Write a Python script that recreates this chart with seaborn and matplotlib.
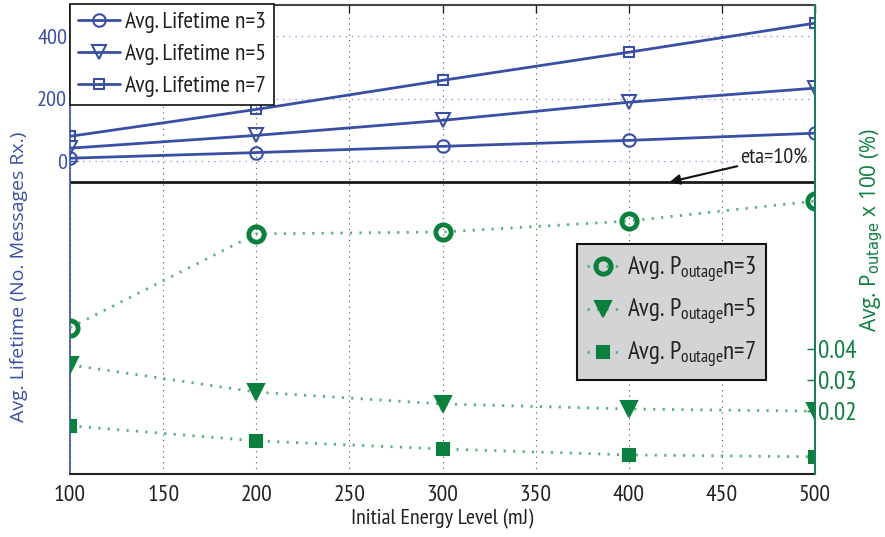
import matplotlib
matplotlib.use("Agg")
import matplotlib.pyplot as plt
import seaborn as sns
import numpy as np
import pandas as pd
from matplotlib import font_manager as fm

# ---------------- data ----------------
energy = [100, 200, 300, 400, 500]
life_n3 = [10, 28, 48, 67, 90]
life_n5 = [42, 83, 131, 189, 234]
life_n7 = [80, 166, 259, 349, 442]
pout_n3 = [0.0468, 0.0768, 0.0774, 0.0809, 0.0873]
pout_n5 = [0.0349, 0.0262, 0.0224, 0.0208, 0.0201]
pout_n7 = [0.0154, 0.0106, 0.0080, 0.0061, 0.0055]
eta_level = -66
x_ticks = [100, 150, 200, 250, 300, 350, 400, 450, 500]
left_ticks = [0, 200, 400]
right_ticks = [0.02, 0.03, 0.04]

BLUE = "#3a4fa3"
GREEN = "#0b7f3d"
LGREEN = "#5db07c"

names = set(f.name for f in fm.fontManager.ttflist)
FONT = "DejaVu Sans"
for cand in ["PT Sans Narrow", "Asap Condensed", "Archivo Narrow", "Barlow Semi Condensed"]:
    if cand in names:
        FONT = cand
        break
WIDE = "Open Sans" if "Open Sans" in names else "DejaVu Sans"

sns.set_theme(style="white")
plt.rcParams["font.family"] = [FONT, "DejaVu Sans"]
plt.rcParams["mathtext.fontset"] = "custom"
plt.rcParams["mathtext.rm"] = FONT
plt.rcParams["mathtext.it"] = FONT

fig = plt.figure(figsize=(8.85, 5.37), dpi=100)
ax = fig.add_axes([70/885, 63/537, 745/885, 469/537])
ax2 = ax.twinx()

# left: lifetime
life = {"n=3": (life_n3, "o", 9), "n=5": (life_n5, "v", 10), "n=7": (life_n7, "s", 7)}
for key, (vals, mk, ms) in life.items():
    sns.lineplot(x=energy, y=vals, ax=ax, color=BLUE, marker=mk, markersize=ms,
                 markerfacecolor="none", markeredgecolor=BLUE, markeredgewidth=1.5,
                 linewidth=2, label=f"Avg. Lifetime {key}")
ax.axhline(eta_level, color="#1a1a1a", linewidth=2)

# right: outage
pout = {"n=3": (pout_n3, "o", 11, "none"), "n=5": (pout_n5, "v", 12, GREEN), "n=7": (pout_n7, "s", 9, GREEN)}
for key, (vals, mk, ms, fc) in pout.items():
    sns.lineplot(x=energy, y=vals, ax=ax2, color=LGREEN, marker=mk, markersize=ms,
                 markerfacecolor=fc, markeredgecolor=GREEN, markeredgewidth=3.5 if mk == "o" else 1.5,
                 linewidth=2, linestyle=(0, (0.8, 2.6)),
                 label=r"Avg. P$_{\mathrm{outage}}$n=" + key[2:])

ax.set_xlim(100, 500)
ax.set_ylim(-1000, 500)
ax2.set_ylim(0, 0.15)
ax.set_xticks(x_ticks)
ax.set_xticklabels([str(t) for t in x_ticks], fontsize=17, color="#222222")
ax.set_yticks(left_ticks)
ax.set_yticklabels([str(t) for t in left_ticks], fontsize=16, color=BLUE)
ax2.set_yticks(right_ticks)
ax2.set_yticklabels([f"{t:.2f}" for t in right_ticks], fontsize=18, color=GREEN)

ax.tick_params(axis="x", direction="in", length=6, top=True, width=1, pad=8)
ax.tick_params(axis="y", direction="in", length=6, right=False, width=1, pad=2, colors=BLUE)
ax.tick_params(axis="y", labelcolor=BLUE)
ax2.tick_params(axis="y", direction="in", length=6, width=1, pad=2, colors=GREEN)

# grid
for xt in x_ticks:
    ax.axvline(xt, color="#555555", linestyle=(0, (1, 4)), linewidth=0.8, zorder=0)
for yt in left_ticks:
    ax.axhline(yt, color="#7f8ecf", linestyle=(0, (1, 4)), linewidth=0.9, zorder=0)

ax.spines["top"].set_color("#444444"); ax.spines["top"].set_linewidth(1.5)
ax.spines["bottom"].set_color("#222222"); ax.spines["bottom"].set_linewidth(1.5)
ax.spines["left"].set_color(BLUE); ax.spines["left"].set_linewidth(1.2)
ax2.spines["right"].set_color("#1f7a62"); ax2.spines["right"].set_linewidth(1.5)
ax2.spines["left"].set_visible(False)
ax.spines["right"].set_visible(False)
ax2.spines["top"].set_visible(False)
ax2.spines["bottom"].set_visible(False)

ax.set_xlabel("Initial Energy Level (mJ)", fontsize=16, color="#222222", labelpad=2)
ax.set_ylabel("Avg. Lifetime (No. Messages Rx.)", fontsize=14, color=BLUE,
              family=[WIDE, "DejaVu Sans"])
ax.yaxis.set_label_coords(-0.057, 0.42)
ax2.set_ylabel(r"Avg. P$_{\mathsf{outage}}$ x 100 (%)", fontsize=15, color=GREEN,
               family=[WIDE, "DejaVu Sans"])
ax2.yaxis.set_label_coords(1.058, 0.52)

# eta annotation
ax.annotate("eta=10%", xy=(422, eta_level), xytext=(460, 12), fontsize=16, color="#222222",
            va="center", ha="left",
            arrowprops=dict(arrowstyle="-|>", color="#111111", lw=1.5, mutation_scale=15,
                            shrinkA=0, shrinkB=0))

leg1 = ax.legend(loc="upper left", fontsize=17, frameon=True, fancybox=False,
                 edgecolor="#111111", facecolor="white", framealpha=1,
                 borderaxespad=0, handlelength=1.8, handletextpad=0.2, labelspacing=0.45,
                 borderpad=0.33, bbox_to_anchor=(0.0, 1.003))
leg1.get_frame().set_linewidth(1.2)
for t in leg1.get_texts():
    t.set_color("#222222")

leg2 = ax2.legend(loc="upper left", bbox_to_anchor=(0.68, 0.49), fontsize=18, frameon=True,
                  fancybox=False, edgecolor="#111111", facecolor="#d4d4d6", framealpha=1,
                  handlelength=1.3, handletextpad=0.3, labelspacing=0.5, borderpad=0.4,
                  borderaxespad=0)
leg2.get_frame().set_linewidth(1.5)
for t in leg2.get_texts():
    t.set_color("#222222")
ax2.set_zorder(ax.get_zorder() + 1)
ax.patch.set_visible(False)

fig.savefig("out.png", dpi=100)
